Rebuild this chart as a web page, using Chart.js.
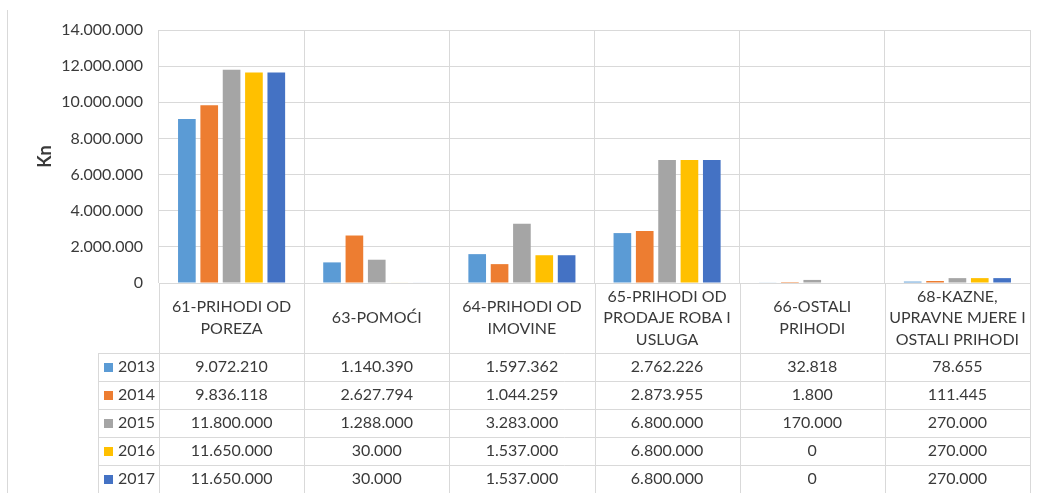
<!DOCTYPE html>
<html>
<head>
<meta charset="utf-8">
<script src="https://cdn.jsdelivr.net/npm/chart.js@4/dist/chart.umd.min.js"></script>
<style>
  html, body { margin: 0; padding: 0; background: #fff; }
  #wrap { width: 1039px; height: 493px; position: relative; }
</style>
</head>
<body>
<div id="wrap"><canvas id="chart" width="1039" height="493"></canvas></div>
<script>
const categories = [
  ['61-PRIHODI OD', 'POREZA'],
  ['63-POMOĆI'],
  ['64-PRIHODI OD', 'IMOVINE'],
  ['65-PRIHODI OD', 'PRODAJE ROBA I', 'USLUGA'],
  ['66-OSTALI', 'PRIHODI'],
  ['68-KAZNE,', 'UPRAVNE MJERE I', 'OSTALI PRIHODI']
];
const years = ['2013', '2014', '2015', '2016', '2017'];
const values2013 = [9072210, 1140390, 1597362, 2762226, 32818, 78655];
const values2014 = [9836118, 2627794, 1044259, 2873955, 1800, 111445];
const values2015 = [11800000, 1288000, 3283000, 6800000, 170000, 270000];
const values2016 = [11650000, 30000, 1537000, 6800000, 0, 270000];
const values2017 = [11650000, 30000, 1537000, 6800000, 0, 270000];
const colors = ['#5b9bd5', '#ed7d31', '#a5a5a5', '#ffc000', '#4472c4'];

const series = [values2013, values2014, values2015, values2016, values2017];
const FONT = 'Lato, "Open Sans", sans-serif';
const TEXT = '#3a3a3a';
const GRID = '#d9d9d9';

// 14000000 -> "14.000.000"
const fmt = (v) => String(Math.round(v)).replace(/\B(?=(\d{3})+(?!\d))/g, '.');

const dataTable = {
  id: 'dataTable',
  beforeDraw(chart) {
    const ctx = chart.ctx;
    ctx.save();
    ctx.strokeStyle = GRID;
    ctx.lineWidth = 1;
    ctx.beginPath();
    ctx.moveTo(7.5, 10);
    ctx.lineTo(7.5, chart.height);
    ctx.stroke();
    ctx.restore();
  },
  afterDraw(chart) {
    const { ctx, chartArea } = chart;
    const x = chart.scales.x;
    const n = categories.length;
    const step = x.width / n;
    const top = chartArea.bottom;
    const headerBottom = top + 70;
    const rowH = 28;
    const legendLeft = 98.5;
    const bottom = chart.height;

    ctx.save();
    ctx.strokeStyle = GRID;
    ctx.lineWidth = 1;
    ctx.beginPath();
    for (let i = 0; i <= n; i++) {
      const px = Math.round(x.left + i * step) + 0.5;
      ctx.moveTo(px, top);
      ctx.lineTo(px, bottom);
    }
    ctx.moveTo(legendLeft, headerBottom);
    ctx.lineTo(legendLeft, bottom);
    for (let r = 0; r < years.length; r++) {
      const py = Math.round(headerBottom + r * rowH) + 0.5;
      ctx.moveTo(legendLeft, py);
      ctx.lineTo(chartArea.right, py);
    }
    ctx.stroke();

    ctx.fillStyle = TEXT;
    ctx.font = '16px ' + FONT;
    ctx.textAlign = 'center';
    ctx.textBaseline = 'middle';
    const lh = 21.5;
    const hMid = (top + headerBottom) / 2;
    categories.forEach((lines, i) => {
      const cx = x.getPixelForValue(i);
      lines.forEach((ln, k) => {
        ctx.fillText(ln, cx, hMid + (k - (lines.length - 1) / 2) * lh);
      });
    });

    series.forEach((vals, s) => {
      const cy = headerBottom + s * rowH + rowH / 2;
      ctx.fillStyle = colors[s];
      ctx.fillRect(104, Math.round(cy - 4.5), 9, 9);
      ctx.fillStyle = TEXT;
      ctx.textAlign = 'left';
      ctx.fillText(years[s], 118, cy);
      ctx.textAlign = 'center';
      vals.forEach((v, i) => {
        ctx.fillText(fmt(v), x.getPixelForValue(i), cy);
      });
    });
    ctx.restore();
  }
};

new Chart(document.getElementById('chart'), {
  type: 'bar',
  data: {
    labels: categories,
    datasets: series.map((vals, s) => ({
      label: years[s],
      data: vals,
      backgroundColor: colors[s],
      borderWidth: 0,
      categoryPercentage: 0.77,
      barPercentage: 0.79
    }))
  },
  options: {
    responsive: false,
    animation: false,
    layout: { padding: { left: 0, right: 9, top: 30, bottom: 210 } },
    plugins: {
      legend: { display: false },
      tooltip: { enabled: false }
    },
    scales: {
      x: {
        ticks: { display: false },
        grid: { color: GRID, drawTicks: false, offset: true },
        border: { color: GRID }
      },
      y: {
        min: 0,
        max: 14000000,
        afterFit: (scale) => { scale.width = 159; },
        ticks: {
          stepSize: 2000000,
          padding: 16,
          color: TEXT,
          font: { family: FONT, size: 16 },
          callback: (v) => fmt(v)
        },
        grid: { color: GRID, drawTicks: false },
        border: { display: false },
        title: {
          display: true,
          text: 'Kn',
          color: TEXT,
          font: { family: FONT, size: 18, weight: 'bold' },
          padding: { top: 34, bottom: 0 }
        }
      }
    }
  },
  plugins: [dataTable]
});
</script>
</body>
</html>
